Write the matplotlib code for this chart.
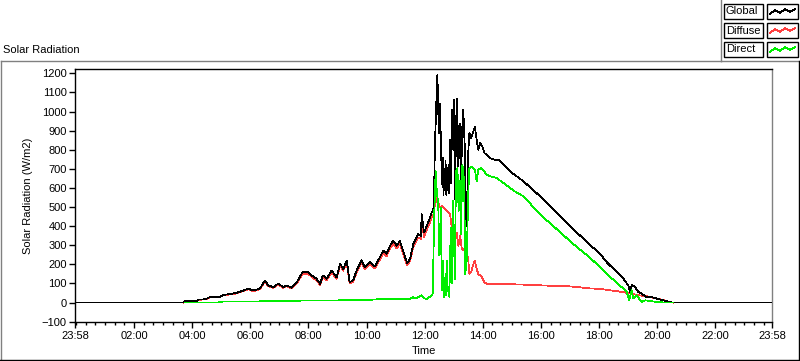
import matplotlib
matplotlib.use("Agg")
import matplotlib.pyplot as plt
from matplotlib.lines import Line2D
from matplotlib.patches import Rectangle
from matplotlib.ticker import FixedLocator, MultipleLocator

plt.rcParams['font.family'] = ['Liberation Sans', 'DejaVu Sans']

# ---- data (time in hours of day) ----
time_global = [0, 3.7, 3.75, 4.17, 4.2, 4.44, 4.6, 4.8, 4.96, 5.07, 5.3, 5.53, 5.7, 5.93,
               6.1, 6.33, 6.5, 6.62, 6.79, 6.96, 7.14, 7.25, 7.42, 7.6, 7.8, 8.0, 8.11,
               8.28, 8.4, 8.5, 8.63, 8.8, 8.97, 9.09, 9.2, 9.32, 9.42, 9.54, 9.66, 9.83,
               9.94, 10.12, 10.29, 10.46, 10.58, 10.69, 10.81, 10.92, 11.04, 11.15, 11.33,
               11.4, 11.5, 11.61, 11.78, 11.87, 11.9, 11.98, 12.07, 12.19, 12.24, 12.3,
               12.33, 12.35, 12.41, 12.44, 12.47, 12.5, 12.53, 12.56, 12.6, 12.63, 12.65,
               12.67, 12.7, 12.72, 12.75, 12.77, 12.8, 12.82, 12.84, 12.87, 12.91, 12.95,
               12.99, 13.02, 13.05, 13.08, 13.12, 13.16, 13.22, 13.25, 13.3, 13.33, 13.39,
               13.43, 13.47, 13.5, 13.54, 13.6, 13.68, 13.73, 13.79, 13.85, 13.91, 13.99,
               14.06, 14.14, 14.25, 14.4, 14.54, 14.77, 14.94, 15.4, 15.97, 16.55, 17.12,
               17.69, 18.04, 18.27, 18.84, 19.01, 19.07, 19.13, 19.24, 19.36, 19.47, 19.64,
               19.82, 19.99, 20.33, 20.44, 20.55, 23.96]
global_vals = [0, 0, 7, 8, 16, 17, 28, 29, 30, 40, 45, 51, 60, 73,
               63, 73, 116, 90, 81, 99, 81, 90, 78, 107, 159, 159, 142,
               125, 99, 142, 125, 168, 133, 203, 177, 220, 107, 116, 168, 223,
               185, 211, 189, 237, 272, 255, 298, 324, 298, 323, 237,
               206, 229, 307, 358, 350, 462, 367, 401, 445, 471, 488,
               600, 800, 1077, 1190, 1000, 886, 1042, 834, 620, 760, 560,
               700, 600, 740, 560, 680, 590, 720, 575, 852, 626, 1008,
               800, 1060, 540, 938, 1068, 713, 938, 626, 921, 1008, 782,
               401, 540, 782, 886, 860, 895, 921, 852, 800, 834, 817,
               782, 774, 756, 748, 748, 713, 687, 635, 557, 471, 384,
               302, 255, 211, 125, 90, 55, 94, 81, 55, 47, 29,
               29, 21, 8, 3, 0, 0]

time_diffuse = [3.7, 3.75, 4.17, 4.2, 4.44, 4.6, 4.8, 4.96, 5.07, 5.3, 5.53, 5.7, 5.93,
                6.1, 6.33, 6.5, 6.62, 6.79, 6.96, 7.14, 7.25, 7.42, 7.6, 7.8, 8.0, 8.11,
                8.28, 8.4, 8.5, 8.63, 8.8, 8.97, 9.09, 9.2, 9.32, 9.42, 9.54, 9.66, 9.83,
                9.94, 10.12, 10.29, 10.46, 10.58, 10.69, 10.81, 10.92, 11.04, 11.15, 11.33,
                11.4, 11.5, 11.61, 11.78, 11.87, 11.9, 11.98, 12.07, 12.19, 12.24, 12.3,
                12.35, 12.38, 12.41, 12.47, 12.53, 12.6, 12.7, 12.76, 12.82, 12.88, 12.93,
                13.0, 13.05, 13.1, 13.16, 13.22, 13.28, 13.33, 13.39, 13.44, 13.5, 13.54,
                13.6, 13.68, 13.73, 13.79, 13.85, 13.97, 14.06, 14.14, 14.3, 15.0, 15.4,
                16.2, 16.9, 17.35, 17.7, 18.04, 18.4, 18.84, 19.07, 19.4, 19.64, 20.0,
                20.33, 20.44, 20.55]
diffuse_vals = [0, 6, 7, 15, 16, 27, 28, 29, 38, 43, 48, 57, 70,
                60, 70, 110, 86, 77, 94, 77, 86, 74, 100, 150, 150, 134,
                117, 93, 133, 117, 158, 125, 192, 167, 208, 100, 109, 158, 211,
                175, 200, 178, 225, 258, 242, 284, 308, 284, 307, 225,
                196, 218, 292, 340, 333, 420, 345, 380, 420, 445, 460,
                510, 550, 530, 520, 500, 505, 488, 480, 471, 460, 401,
                350, 332, 367, 297, 350, 280, 272, 289, 263, 228, 150,
                159, 202, 220, 176, 150, 133, 107, 98, 98, 96, 94,
                89, 86, 80, 74, 72, 64, 55, 47, 38, 33, 21,
                8, 3, 0]

time_direct = [3.75, 4.9, 4.95, 7.0, 7.4, 9.5, 10.0, 10.5, 11.0, 11.5, 11.6, 11.7, 11.9, 12.0,
               12.07, 12.24, 12.28, 12.33, 12.38, 12.41, 12.47, 12.5, 12.53, 12.56, 12.59,
               12.64, 12.67, 12.7, 12.73, 12.76, 12.78, 12.81, 12.85, 12.9, 12.93, 12.97,
               13.01, 13.04, 13.08, 13.13, 13.17, 13.22, 13.25, 13.3, 13.36, 13.4, 13.45,
               13.5, 13.54, 13.62, 13.73, 13.79, 13.85, 13.96, 14.13, 14.25, 14.48, 14.71,
               15.17, 15.4, 15.97, 16.55, 17.12, 17.69, 18.04, 18.27, 18.84, 18.96, 19.04,
               19.13, 19.18, 19.3, 19.47, 19.6, 19.76, 20.0, 20.3, 20.55]
direct_vals = [0, 0, 5, 7, 10, 12, 14, 18, 20, 20, 28, 22, 38, 22,
               17, 38, 47, 462, 687, 600, 514, 250, 358, 497, 64,
               220, 30, 116, 40, 220, 60, 81, 30, 393, 100, 532,
               358, 120, 687, 704, 479, 635, 358, 722, 635, 150, 220,
               566, 704, 713, 696, 635, 696, 704, 670, 661, 652, 626,
               575, 557, 462, 384, 306, 235, 185, 150, 73, 55, 12,
               64, 21, 38, 3, 12, 8, 3, 0, 0]

series_names = ["Global", "Diffuse", "Direct"]
series_colors = ["#000000", "#ff4040", "#00ee00"]

y_ticks = list(range(-100, 1201, 100))
x_tick_pos = [-2 / 60] + list(range(2, 23, 2)) + [24 - 2 / 60]
x_tick_labels = ["23:58"] + ["%02d:00" % h for h in range(2, 23, 2)] + ["23:58"]

# ---- figure ----
W, H = 800, 361
fig = plt.figure(figsize=(W / 100, H / 100), dpi=100)

def fx(px):
    return px / W

def fy(py):
    return 1 - py / H

ax = fig.add_axes([fx(75), fy(321.7), fx(772.3) - fx(75), fy(69.3) - fy(321.7)])

LW = 0.55
ax.plot(time_diffuse, diffuse_vals, color=series_colors[1], lw=LW, antialiased=False, zorder=2)
ax.plot(time_global, global_vals, color=series_colors[0], lw=LW, antialiased=False, zorder=3)
ax.plot(time_direct, direct_vals, color=series_colors[2], lw=LW, antialiased=False, zorder=4)

ax.set_xlim(-2 / 60, 24 - 2 / 60)
ax.set_ylim(-100, 1221)
ax.yaxis.set_major_locator(FixedLocator(y_ticks))
ax.xaxis.set_major_locator(FixedLocator(x_tick_pos))
ax.set_xticklabels(x_tick_labels)
ax.xaxis.set_minor_locator(MultipleLocator(1 / 3))
ax.tick_params(axis='both', which='major', direction='out', length=4, width=1,
               labelsize=8, pad=2, colors='black')
ax.tick_params(axis='x', which='minor', direction='out', length=2.5, width=1)
ax.tick_params(axis='x', which='major', length=4, pad=3)

for s in ['left', 'bottom', 'top']:
    ax.spines[s].set_color('black')
    ax.spines[s].set_linewidth(1)
ax.spines['right'].set_color('#808080')
ax.spines['right'].set_linewidth(1)

ax.set_ylabel("Solar Radiation (W/m2)", fontsize=8, labelpad=6)
ax.set_xlabel("Time", fontsize=8, labelpad=3)

# panel frame
gray = '#808080'
fig.add_artist(Line2D([fx(0.5), fx(721)], [fy(61), fy(61)], color=gray, lw=1))
fig.add_artist(Line2D([fx(721), fx(721)], [fy(0), fy(61)], color=gray, lw=1))
fig.add_artist(Line2D([fx(721), fx(800)], [fy(60.5), fy(60.5)], color=gray, lw=1))
fig.add_artist(Line2D([fx(1), fx(1)], [fy(61), fy(360)], color=gray, lw=1))
fig.add_artist(Line2D([fx(0), fx(800)], [fy(360), fy(360)], color='black', lw=1))
fig.add_artist(Line2D([fx(799), fx(799)], [fy(61), fy(360)], color='black', lw=1))

fig.text(fx(3), fy(50), "Solar Radiation", fontsize=8, ha='left', va='center')

# legend
row_tops = [4, 23, 42]
for name, col, top in zip(series_names, series_colors, row_tops):
    fig.add_artist(Rectangle((fx(724), fy(top + 15)), fx(763) - fx(724), fy(top) - fy(top + 15),
                             fill=False, ec='black', lw=1))
    fig.add_artist(Rectangle((fx(767), fy(top + 15)), fx(798) - fx(767), fy(top) - fy(top + 15),
                             fill=False, ec='black', lw=1))
    fig.text(fx(726), fy(top + 7.5), name, fontsize=8, ha='left', va='center')
    zx = [770, 775, 780, 785, 790, 795]
    zy = [top + 10, top + 6, top + 9, top + 5, top + 8, top + 5]
    fig.add_artist(Line2D([fx(p) for p in zx], [fy(p) for p in zy], color=col, lw=LW,
                          antialiased=False))

fig.savefig("out.png", dpi=100)
